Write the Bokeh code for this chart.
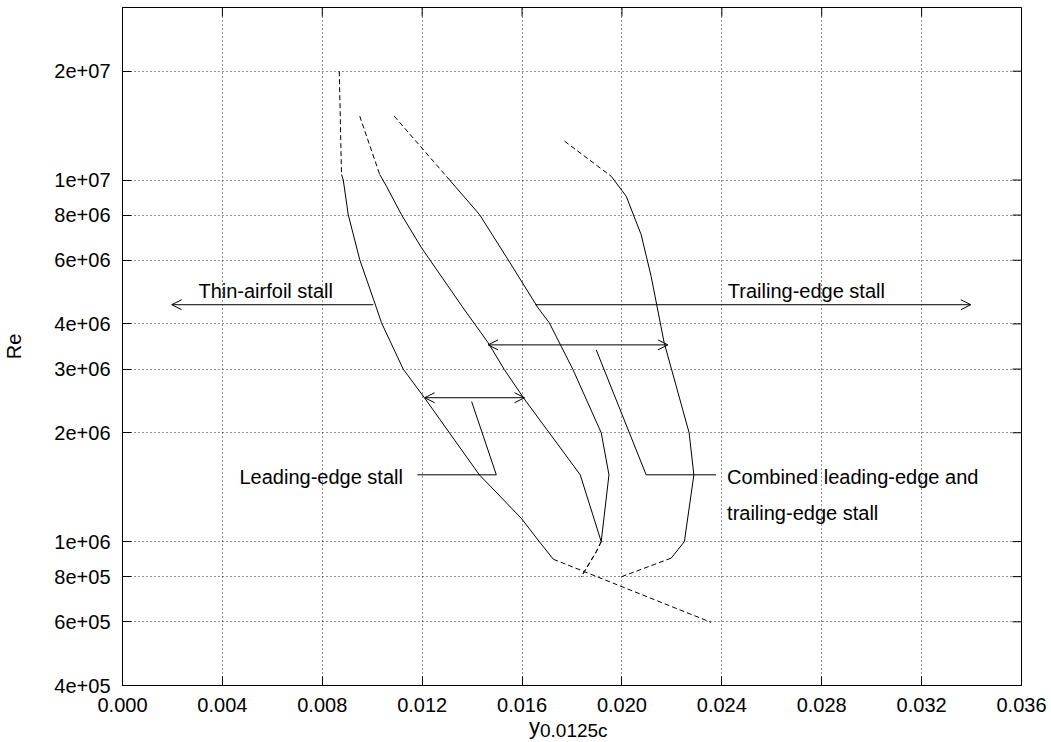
import math
from bokeh.plotting import figure
from bokeh.layouts import column
from bokeh.models import (Range1d, FixedTicker, NumeralTickFormatter, Arrow, OpenHead, Label, Div)
from bokeh.embed import file_html
from bokeh.resources import INLINE

FONT = "Liberation Sans"

# ---------------- data ----------------
xticks = [0.000, 0.004, 0.008, 0.012, 0.016, 0.020, 0.024, 0.028, 0.032, 0.036]
ytick_values = [4e5, 6e5, 8e5, 1e6, 2e6, 3e6, 4e6, 6e6, 8e6, 1e7, 2e7]
ytick_labels = ["4e+05", "6e+05", "8e+05", "1e+06", "2e+06", "3e+06",
                "4e+06", "6e+06", "8e+06", "1e+07", "2e+07"]
x_label_main = "y"
x_label_sub = "0.0125c"
y_label = "Re"

# boundary 1 (thin-airfoil / leading-edge)
b1_top_x = [0.00868, 0.00877]
b1_top_y = [2.0e7, 1.036e7]
b1_x = [0.00877, 0.00884, 0.00904, 0.0095, 0.01017, 0.01037, 0.01124, 0.01209,
        0.01429, 0.01597, 0.01669, 0.01725]
b1_y = [1.036e7, 1.0e7, 8.02e6, 6.02e6, 4.43e6, 4.03e6, 3.0e6, 2.5e6,
        1.53e6, 1.16e6, 1.0e6, 8.94e5]
b1_low_x = [0.01725, 0.02357]
b1_low_y = [8.94e5, 5.98e5]

# boundary 2
b2_top_x = [0.0095, 0.0103]
b2_top_y = [1.502e7, 1.036e7]
b2_x = [0.0103, 0.01057, 0.01117, 0.01197, 0.01364, 0.01464, 0.01529, 0.01609,
        0.01833, 0.01917]
b2_y = [1.036e7, 9.61e6, 8.02e6, 6.5e6, 4.43e6, 3.55e6, 2.99e6, 2.48e6,
        1.53e6, 1.0e6]
b2_low_x = [0.01917, 0.01897, 0.01837]
b2_low_y = [1.0e6, 9.37e5, 7.99e5]

# boundary 3
b3_top_x = [0.01088, 0.01297]
b3_top_y = [1.502e7, 1.024e7]
b3_x = [0.01297, 0.0143, 0.01544, 0.01664, 0.01709, 0.01804, 0.01917, 0.01948, 0.01917]
b3_y = [1.024e7, 8.02e6, 6.02e6, 4.43e6, 4.03e6, 2.99e6, 2.0e6, 1.53e6, 1.0e6]
b3_low_x = [0.01917, 0.01897, 0.01837]
b3_low_y = [1.0e6, 9.37e5, 7.99e5]

# boundary 4
b4_top_x = [0.0177, 0.01957]
b4_top_y = [1.281e7, 1.024e7]
b4_x = [0.01957, 0.02017, 0.02077, 0.02117, 0.02169, 0.02269, 0.02288, 0.0225, 0.02197]
b4_y = [1.024e7, 9.02e6, 7.06e6, 5.41e6, 3.55e6, 2.0e6, 1.53e6, 1.0e6, 9.0e5]
b4_low_x = [0.02197, 0.01997]
b4_low_y = [9.0e5, 7.99e5]

# region arrows: x_start, x_end, y, double-headed?
arrow_x0 = [0.01004, 0.01653, 0.01464, 0.0121]
arrow_x1 = [0.00197, 0.03397, 0.02184, 0.0161]
arrow_y = [4.52e6, 4.52e6, 3.5e6, 2.5e6]
arrow_double = [False, False, True, True]

# pointer lines for labels
lead_ptr_x = [0.01398, 0.01497, 0.01181]
lead_ptr_y = [2.44e6, 1.53e6, 1.53e6]
comb_ptr_x = [0.01897, 0.02097, 0.02377]
comb_ptr_y = [3.39e6, 1.53e6, 1.53e6]

label_texts = ["Thin-airfoil stall", "Trailing-edge stall", "Leading-edge stall",
               "Combined leading-edge and", "trailing-edge stall"]
label_x = [0.00304, 0.02424, 0.01123, 0.02421, 0.02421]
label_y = [4.92e6, 4.92e6, 1.51e6, 1.51e6, 1.2e6]
label_align = ["left", "left", "right", "left", "left"]

X_RANGE = (0.0, 0.036)
Y_RANGE = (4e5, 3e7)

# ---------------- main figure ----------------
p = figure(width=1051, height=720, y_axis_type="log",
           x_range=Range1d(*X_RANGE), y_range=Range1d(*Y_RANGE),
           output_backend="svg", toolbar_location=None,
           min_border_left=121, min_border_right=30,
           min_border_top=7, min_border_bottom=35)
p.background_fill_color = "white"
p.border_fill_color = "white"
p.outline_line_color = "black"
p.outline_line_width = 1
p.outline_line_alpha = 1.0

xt = FixedTicker(ticks=xticks, minor_ticks=[])
yt = FixedTicker(ticks=ytick_values, minor_ticks=[])

ax = p.xaxis[0]
ax.ticker = xt
ax.formatter = NumeralTickFormatter(format="0.000")
ay = p.yaxis[0]
ay.ticker = yt
ay.major_label_overrides = {v: s for v, s in zip(ytick_values, ytick_labels)}
ay.axis_label = y_label
ay.axis_label_text_font = FONT
ay.axis_label_text_font_size = "20px"
ay.axis_label_text_font_style = "normal"
ay.axis_label_text_color = "black"
ay.axis_label_standoff = 26

for a in (ax, ay):
    a.major_tick_in = 9
    a.major_tick_out = 0
    a.minor_tick_line_color = None
    a.axis_line_color = "black"
    a.major_tick_line_color = "black"
    a.major_label_text_font = FONT
    a.major_label_text_font_size = "20px"
    a.major_label_text_color = "black"
    a.major_label_standoff = 12

p.xgrid.ticker = xt
p.ygrid.ticker = yt
for g in (p.xgrid[0], p.ygrid[0]):
    g.grid_line_color = "black"
    g.grid_line_dash = "1 3"
    g.grid_line_width = 1
    g.grid_line_alpha = 0.85

# mirrored ticks on right and top edges (half of each dash is clipped away)
p.scatter(x=[X_RANGE[1]] * len(ytick_values), y=ytick_values, marker="dash",
          size=18, line_color="black", line_width=1)
p.scatter(x=xticks, y=[Y_RANGE[1]] * len(xticks), marker="dash", angle=math.pi / 2,
          size=18, line_color="black", line_width=1)

DASH = "5 3"
for xs, ys in [(b1_top_x, b1_top_y), (b2_top_x, b2_top_y), (b3_top_x, b3_top_y),
               (b4_top_x, b4_top_y), (b1_low_x, b1_low_y), (b2_low_x, b2_low_y),
               (b3_low_x, b3_low_y), (b4_low_x, b4_low_y)]:
    p.line(xs, ys, line_color="black", line_width=1, line_dash=DASH)
for xs, ys in [(b1_x, b1_y), (b2_x, b2_y), (b3_x, b3_y), (b4_x, b4_y),
               (lead_ptr_x, lead_ptr_y), (comb_ptr_x, comb_ptr_y)]:
    p.line(xs, ys, line_color="black", line_width=1)

for x0, x1, y, dbl in zip(arrow_x0, arrow_x1, arrow_y, arrow_double):
    p.add_layout(Arrow(x_start=x0, y_start=y, x_end=x1, y_end=y,
                       line_color="black", line_width=1,
                       end=OpenHead(size=10, line_width=1, line_color="black"),
                       start=OpenHead(size=10, line_width=1, line_color="black") if dbl else None))

for t, x, y, al in zip(label_texts, label_x, label_y, label_align):
    p.add_layout(Label(x=x, y=y, text=t, text_align=al, text_baseline="middle",
                       text_font=FONT, text_font_size="20px", text_color="black"))

# ---------------- x-axis title  y_{0.0125c} as an HTML strip ----------------
xtitle_html = (
    '<div style="margin-left:529px; font-family:\'Liberation Sans\'; font-size:22px; '
    'line-height:14px; color:black; white-space:nowrap;">'
    + x_label_main
    + '<span style="font-size:19px; position:relative; top:3px;">'
    + x_label_sub + '</span></div>'
)
lab = Div(text=xtitle_html, width=1051, height=22, margin=0)

layout = column(p, lab, spacing=0)
open("out.html", "w").write(file_html(layout, INLINE))
